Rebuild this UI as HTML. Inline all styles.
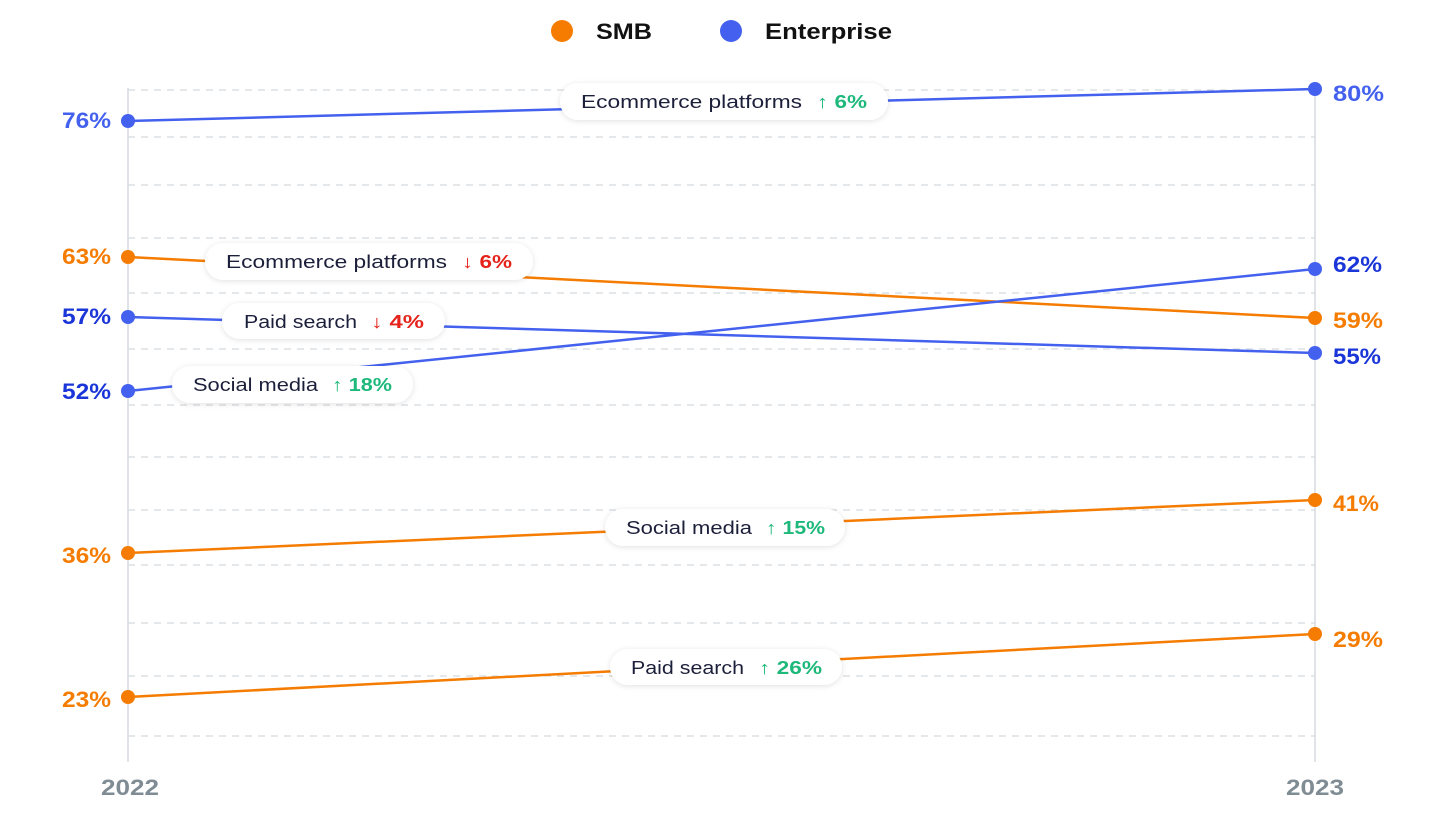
<!DOCTYPE html>
<html><head><meta charset="utf-8"><style>
body{margin:0;background:#fff;}
svg text{font-family:"Liberation Sans",sans-serif;}
</style></head><body>
<svg width="1444" height="821" viewBox="0 0 1444 821" xmlns="http://www.w3.org/2000/svg">
<defs><filter id="sh" x="-20%" y="-50%" width="140%" height="200%"><feDropShadow dx="0" dy="1" stdDeviation="3" flood-color="#000" flood-opacity="0.12"/></filter></defs>
<circle cx="562" cy="31" r="11" fill="#f57c00"/>
<text x="596" y="39" font-size="22" font-weight="bold" fill="#111" textLength="56" lengthAdjust="spacingAndGlyphs">SMB</text>
<circle cx="731" cy="31" r="11" fill="#4361ee"/>
<text x="765" y="39" font-size="22" font-weight="bold" fill="#111" textLength="127" lengthAdjust="spacingAndGlyphs">Enterprise</text>
<g stroke="#d5d9dd" stroke-width="1.3" stroke-dasharray="7,6">
<line x1="128" x2="1315" y1="90" y2="90"/><line x1="128" x2="1315" y1="137" y2="137"/>
<line x1="128" x2="1315" y1="185" y2="185"/><line x1="128" x2="1315" y1="238" y2="238"/>
<line x1="128" x2="1315" y1="293" y2="293"/><line x1="128" x2="1315" y1="349" y2="349"/>
<line x1="128" x2="1315" y1="405" y2="405"/><line x1="128" x2="1315" y1="457" y2="457"/>
<line x1="128" x2="1315" y1="510" y2="510"/><line x1="128" x2="1315" y1="565" y2="565"/>
<line x1="128" x2="1315" y1="623" y2="623"/><line x1="128" x2="1315" y1="676" y2="676"/>
<line x1="128" x2="1315" y1="736" y2="736"/>
</g>
<line x1="128" x2="128" y1="88" y2="762" stroke="#d5dbe0" stroke-width="1.5"/>
<line x1="1315" x2="1315" y1="88" y2="762" stroke="#d5dbe0" stroke-width="1.5"/>
<g stroke-width="2.5" fill="none">
<line x1="128" y1="121" x2="1315" y2="89" stroke="#4361ee"/>
<line x1="128" y1="257" x2="1315" y2="318" stroke="#f57c00"/>
<line x1="128" y1="317" x2="1315" y2="353" stroke="#4361ee"/>
<line x1="128" y1="391" x2="1315" y2="269" stroke="#4361ee"/>
<line x1="128" y1="553" x2="1315" y2="500" stroke="#f57c00"/>
<line x1="128" y1="697" x2="1315" y2="634" stroke="#f57c00"/>
</g>
<g fill="#4361ee"><circle cx="128" cy="121" r="7"/><circle cx="1315" cy="89" r="7"/><circle cx="128" cy="317" r="7"/><circle cx="1315" cy="353" r="7"/><circle cx="128" cy="391" r="7"/><circle cx="1315" cy="269" r="7"/></g>
<g fill="#f57c00"><circle cx="128" cy="257" r="7"/><circle cx="1315" cy="318" r="7"/><circle cx="128" cy="553" r="7"/><circle cx="1315" cy="500" r="7"/><circle cx="128" cy="697" r="7"/><circle cx="1315" cy="634" r="7"/></g>
<g font-size="22" font-weight="bold">
<text x="62" y="128" textLength="49" lengthAdjust="spacingAndGlyphs" fill="#4361ee">76%</text>
<text x="62" y="264" textLength="49" lengthAdjust="spacingAndGlyphs" fill="#f57c00">63%</text>
<text x="62" y="324" textLength="49" lengthAdjust="spacingAndGlyphs" fill="#1a35d8">57%</text>
<text x="62" y="399" textLength="49" lengthAdjust="spacingAndGlyphs" fill="#1a35d8">52%</text>
<text x="62" y="563" textLength="49" lengthAdjust="spacingAndGlyphs" fill="#f57c00">36%</text>
<text x="62" y="707" textLength="49" lengthAdjust="spacingAndGlyphs" fill="#f57c00">23%</text>
<text x="1333" y="101" textLength="51" lengthAdjust="spacingAndGlyphs" fill="#4361ee">80%</text>
<text x="1333" y="272" textLength="49" lengthAdjust="spacingAndGlyphs" fill="#1a35d8">62%</text>
<text x="1333" y="328" textLength="50" lengthAdjust="spacingAndGlyphs" fill="#f57c00">59%</text>
<text x="1333" y="364" textLength="48" lengthAdjust="spacingAndGlyphs" fill="#1a35d8">55%</text>
<text x="1333" y="511" textLength="46" lengthAdjust="spacingAndGlyphs" fill="#f57c00">41%</text>
<text x="1333" y="647" textLength="50" lengthAdjust="spacingAndGlyphs" fill="#f57c00">29%</text>
</g>
<g filter="url(#sh)" fill="#fff">
<rect x="560" y="83" width="328" height="37" rx="18.5"/>
<rect x="205" y="243" width="328" height="37" rx="18.5"/>
<rect x="222" y="303" width="223" height="36" rx="18"/>
<rect x="172" y="366" width="241" height="37" rx="18.5"/>
<rect x="605" y="509" width="240" height="37" rx="18.5"/>
<rect x="610" y="649" width="232" height="36" rx="18"/>
</g>
<g font-size="18" fill="#1c1f3a" lengthAdjust="spacingAndGlyphs">
<text x="581" y="108" textLength="221" lengthAdjust="spacingAndGlyphs">Ecommerce platforms</text>
<text x="226" y="268" textLength="221" lengthAdjust="spacingAndGlyphs">Ecommerce platforms</text>
<text x="244" y="328" textLength="113" lengthAdjust="spacingAndGlyphs">Paid search</text>
<text x="193" y="391" textLength="125" lengthAdjust="spacingAndGlyphs">Social media</text>
<text x="626" y="534" textLength="126" lengthAdjust="spacingAndGlyphs">Social media</text>
<text x="631" y="674" textLength="113" lengthAdjust="spacingAndGlyphs">Paid search</text>
</g>
<g font-size="18" font-weight="bold">
<text x="817" y="108" textLength="50" lengthAdjust="spacingAndGlyphs" fill="#1db87a">↑ 6%</text>
<text x="462" y="268" textLength="50" lengthAdjust="spacingAndGlyphs" fill="#e5231b">↓ 6%</text>
<text x="371" y="328" textLength="53" lengthAdjust="spacingAndGlyphs" fill="#e5231b">↓ 4%</text>
<text x="332" y="391" textLength="60" lengthAdjust="spacingAndGlyphs" fill="#1db87a">↑ 18%</text>
<text x="766" y="534" textLength="59" lengthAdjust="spacingAndGlyphs" fill="#1db87a">↑ 15%</text>
<text x="759" y="674" textLength="63" lengthAdjust="spacingAndGlyphs" fill="#1db87a">↑ 26%</text>
</g>
<g font-size="22" font-weight="bold" fill="#7f8c94">
<text x="101" y="795" textLength="58" lengthAdjust="spacingAndGlyphs">2022</text>
<text x="1286" y="795" textLength="58" lengthAdjust="spacingAndGlyphs">2023</text>
</g>
</svg>
</body></html>
